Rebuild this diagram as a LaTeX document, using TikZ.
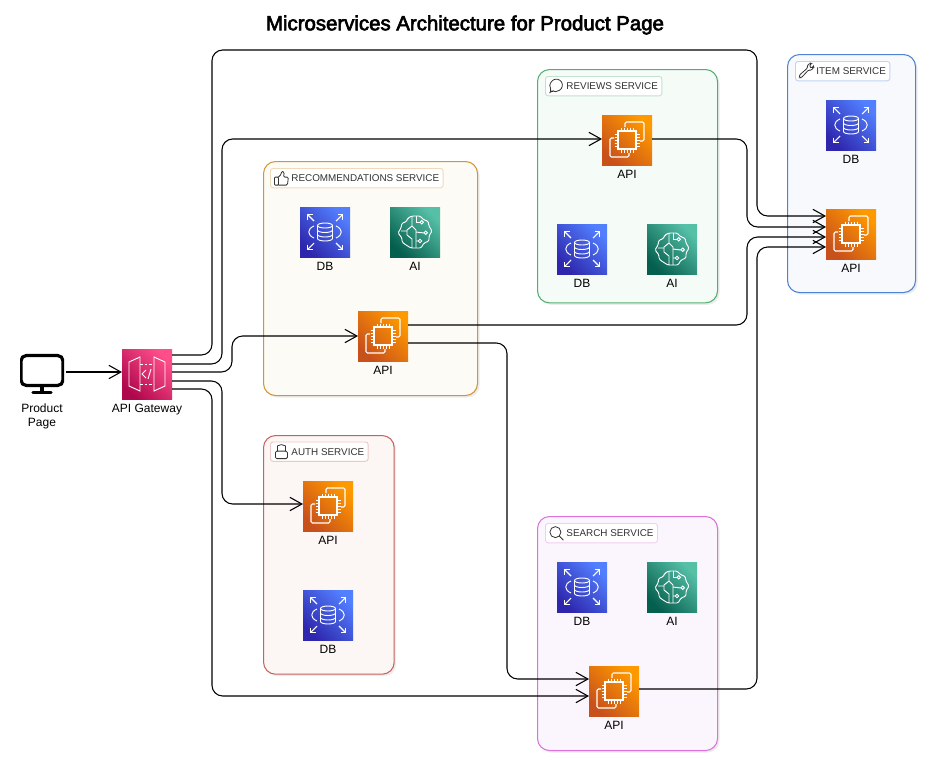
\documentclass[tikz,border=0pt]{standalone}
\usepackage{fontspec}
\setmainfont{Liberation Sans}
\newfontfamily\titlefont[FakeBold=3]{Liberation Sans}
\usetikzlibrary{positioning}
\usetikzlibrary{arrows.meta}
\usetikzlibrary{shadows}
\definecolor{inkgrey}{HTML}{333333}
\definecolor{recline}{HTML}{D0953F}
\definecolor{revline}{HTML}{55AD72}
\definecolor{itemline}{HTML}{4F82D3}
\definecolor{authline}{HTML}{C8625F}
\definecolor{searchline}{HTML}{DA72DA}
\definecolor{recfill}{HTML}{FDFBF5}
\definecolor{revfill}{HTML}{F5FCF8}
\definecolor{itemfill}{HTML}{F7F9FD}
\definecolor{authfill}{HTML}{FCF6F5}
\definecolor{searchfill}{HTML}{FBF6FD}
\tikzset{
	conn/.style={
		draw=black,
		line width=.8pt,
		rounded corners=8pt,
		-{Straight Barb[length=9pt,width=10pt,line width=.8pt]}
	},
	iconbox/.style={
		rectangle,
		inner sep=0pt,
		outer sep=0pt,
		minimum size=37.5pt,
		shade
	},
	apibox/.style={
		iconbox,
		bottom color={rgb,255:red,200;green,81;blue,27},
		top color={rgb,255:red,255;green,153;blue,0},
		shading angle=-45,
		path picture={\pic at (path picture bounding box.center) {chipglyph};}
	},
	dbbox/.style={
		iconbox,
		bottom color={rgb,255:red,46;green,39;blue,173},
		top color={rgb,255:red,82;green,127;blue,255},
		shading angle=-45,
		path picture={\pic at (path picture bounding box.center) {dbglyph};}
	},
	aibox/.style={
		iconbox,
		bottom color={rgb,255:red,5;green,95;blue,78},
		top color={rgb,255:red,86;green,192;blue,167},
		shading angle=-45,
		path picture={\pic at (path picture bounding box.center) {aiglyph};}
	},
	gatewaybox/.style={
		iconbox,
		bottom color={rgb,255:red,176;green,8;blue,77},
		top color={rgb,255:red,255;green,79;blue,139},
		shading angle=-45,
		path picture={\pic at (path picture bounding box.center) {gateglyph};}
	},
	monitorbox/.style={
		rectangle,
		inner sep=0pt,
		minimum width=33pt,
		minimum height=30pt,
		path picture={\pic at (path picture bounding box.center) {monitorglyph};}
	},
	lbl/.style={
		font=\fontsize{9}{10.5}\selectfont,
		text=black,
		align=center,
		inner sep=0pt
	},
	group/.style={
		rectangle,
		rounded corners=9pt,
		line width=.8pt,
		anchor=north west,
		draw=#1line,
		fill=#1fill,
		drop shadow={shadow xshift=1.5pt,shadow yshift=-1.5pt,opacity=.15}
	},
	chip/.style={
		rectangle,
		rounded corners=2pt,
		line width=.7pt,
		fill=white,
		anchor=north west,
		text=inkgrey,
		minimum height=14.5pt,
		inner ysep=0pt,
		inner xsep=3pt,
		font=\fontsize{7.4}{9}\selectfont,
		path picture={\pic at ([xshift=8.2pt]path picture bounding box.west) {#1};}
	},
	chipglyph/.pic={
		\draw[white,line width=.85pt] (-9,-9) rectangle (9,9);
		\foreach \p in {-6,-3,0,3,6} {
			\draw[white,line width=.6pt] (\p,-12.5) -- (\p,-9) (\p,9) -- (\p,12.5);
			\draw[white,line width=.6pt] (-12.5,\p) -- (-9,\p) (9,\p) -- (12.5,\p);
		}
		\draw[white,line width=.85pt,rounded corners=1pt] (-2,-13) -- (-2,-18) -- (17,-18) -- (17,1) -- (13,1);
		\draw[white,line width=.85pt,rounded corners=1pt] (-13,-2) -- (-17,-2) -- (-17,17) -- (2,17) -- (2,13);
	},
	dbglyph/.pic={
		\draw[white,line width=.7pt] (0,-6.5) ellipse (7.5 and 2.5);
		\draw[white,line width=.7pt] (-7.5,-6.5) -- (-7.5,6.5) arc (180:0:7.5 and 2.5) -- (7.5,-6.5);
		\draw[white,line width=.7pt] (-7.5,-2) arc (180:0:7.5 and 2.5);
		\draw[white,line width=.7pt] (-7.5,2.5) arc (180:0:7.5 and 2.5);
		\draw[white,line width=.7pt] (-11,-6) .. controls (-18,-3) and (-18,3) .. (-11,6);
		\draw[white,line width=.7pt] (11,-6) .. controls (18,-3) and (18,3) .. (11,6);
		\foreach \sx/\sy in {1/1,1/-1,-1/1,-1/-1} {
			\draw[white,line width=.8pt] (\sx*11,\sy*11) -- (\sx*17.5,\sy*17.5);
			\draw[white,line width=.8pt] (\sx*17.5,\sy*12.5) -- (\sx*17.5,\sy*17.5) -- (\sx*12.5,\sy*17.5);
		}
	},
	aiglyph/.pic={
		\draw[white,line width=.7pt,rounded corners=1pt] (-3,-16) -- (5,-16) -- (9,-12) -- (13,-11) -- (14,-6) -- (17,-1) -- (14,4) -- (14,9) -- (9,11) -- (6,16) -- (-4,16) -- (-9,13) -- (-13,10) -- (-13,6) -- (-17,1) -- (-14,-4) -- (-13,-9) -- (-9,-10) -- (-7,-14) -- cycle;
		\draw[white,line width=.7pt] (-3,-16) -- (-3,-6) -- (-8,-2) -- (-8,3);
		\draw[white,line width=.7pt] (-14,-1) -- (-8,-1) (-8,3) -- (-3,7) -- (-3,16);
		\draw[white,line width=.7pt] (-3,-6) -- (1,-2) -- (1,16);
		\draw[white,line width=.7pt] (1,-16) -- (1,-10) -- (5,-10);
		\draw[white,line width=.7pt] (1,0) -- (9,1) (1,9) -- (3.5,9);
		\draw[white,line width=.7pt] (6.7,-9.7) circle (1.7) (10.7,.7) circle (1.7) (5,9) circle (1.7);
	},
	gateglyph/.pic={
		\draw[white,line width=.7pt] (-18,-12) -- (-7,-17) -- (-7,17) -- (-18,12) -- cycle;
		\draw[white,line width=.7pt] (18,-12) -- (7,-17) -- (7,17) -- (18,12) -- cycle;
		\draw[white,line width=.7pt,dash pattern=on 2pt off 1.5pt] (-7,-10) -- (7,-10) (-7,10) -- (7,10);
		\draw[white,line width=.7pt] (-1,-4) -- (-5,0) -- (-1,4) (4,-5) -- (1,5);
	},
	monitorglyph/.pic={
		\draw[black,line width=2.4pt,rounded corners=4pt] (-21,-18) rectangle (21,12);
		\draw[black,line width=2.4pt] (0,12) -- (0,19);
		\draw[black,line width=2.4pt,line cap=round] (-9,19) -- (9,19);
	},
	thumbglyph/.pic={
		\draw[inkgrey,line width=.6pt,rounded corners=.6pt] (-7,-1) rectangle (-3,7);
		\draw[inkgrey,line width=.6pt,rounded corners=1pt] (-3,-1) -- (0,-4) -- (0,-7) -- (3,-6) -- (2,-1) -- (7,-1) -- (6,7) -- (-3,7);
	},
	bubbleglyph/.pic={
		\draw[inkgrey,line width=.6pt] (-5.2,2) arc (150:480:6) -- (-6.5,6.5) -- cycle;
	},
	wrenchglyph/.pic={
		\draw[inkgrey,line width=.6pt,rounded corners=.8pt] (-7,4) -- (1,-3) -- (1,-6) -- (4,-8) -- (5,-7.5) -- (3,-5) -- (5,-3) -- (7,-5) -- (7.5,-4) -- (5,-1) -- (2,-1) -- (-5,6.5) -- (-7,6.5) -- cycle;
	},
	lockglyph/.pic={
		\draw[inkgrey,line width=.6pt,rounded corners=1pt] (-6,-.5) rectangle (6,7);
		\draw[inkgrey,line width=.6pt] (-4,-.5) -- (-4,-3) arc (180:360:4) -- (4,-.5);
	},
	lensglyph/.pic={
		\draw[inkgrey,line width=.6pt] (-1,-1) circle (5.5);
		\draw[inkgrey,line width=.6pt] (3,3) -- (7,7);
	}
}

\begin{document}
\begin{tikzpicture}[x=.75pt,y=-.75pt]
	\useasboundingbox (0,0) rectangle (929,764);

	\node[font=\fontsize{15.3}{18}\titlefont] (title) at (465,25) {Microservices Architecture for Product Page};

	% service groups
	\node[group=rec,minimum width=160.5pt,minimum height=175.5pt] (recgroup) at (263,161) {};
	\node[group=rev,minimum width=135pt,minimum height=175pt] (revgroup) at (537,69) {};
	\node[group=item,minimum width=96pt,minimum height=178.5pt] (itemgroup) at (787,54) {};
	\node[group=auth,minimum width=98pt,minimum height=179pt] (authgroup) at (263,435) {};
	\node[group=search,minimum width=135pt,minimum height=175.5pt] (searchgroup) at (537,516) {};

	\node[chip=thumbglyph,draw=recline!35] (recchip) at (270,168) {\hspace*{12.75pt}RECOMMENDATIONS SERVICE};
	\node[chip=bubbleglyph,draw=revline!35] (revchip) at (545,76) {\hspace*{12.75pt}REVIEWS SERVICE};
	\node[chip=wrenchglyph,draw=itemline!35] (itemchip) at (795,61) {\hspace*{12.75pt}ITEM SERVICE};
	\node[chip=lockglyph,draw=authline!35] (authchip) at (270,441.5) {\hspace*{12.75pt}AUTH SERVICE};
	\node[chip=lensglyph,draw=searchline!35] (searchchip) at (545,523) {\hspace*{12.75pt}SEARCH SERVICE};

	% icons
	\node[monitorbox] (page) at (42,373.5) {};
	\node[lbl,below=7pt of page.south] (pagelbl) {Product\\Page};
	\node[gatewaybox] (gateway) at (147,374) {};
	\node[lbl,below=3.5pt of gateway] (gatewaylbl) {API Gateway};

	\node[dbbox] (recdb) at (325,232) {};
	\node[lbl,below=3.5pt of recdb] (recdblbl) {DB};
	\node[aibox] (recai) at (415,232) {};
	\node[lbl,below=3.5pt of recai] (recailbl) {AI};
	\node[apibox] (recapi) at (383,336) {};
	\node[lbl,below=3.5pt of recapi] (recapilbl) {API};

	\node[apibox] (revapi) at (627,140) {};
	\node[lbl,below=3.5pt of revapi] (revapilbl) {API};
	\node[dbbox] (revdb) at (582,249) {};
	\node[lbl,below=3.5pt of revdb] (revdblbl) {DB};
	\node[aibox] (revai) at (672,249) {};
	\node[lbl,below=3.5pt of revai] (revailbl) {AI};

	\node[dbbox] (itemdb) at (851,125) {};
	\node[lbl,below=3.5pt of itemdb] (itemdblbl) {DB};
	\node[apibox] (itemapi) at (851,234) {};
	\node[lbl,below=3.5pt of itemapi] (itemapilbl) {API};

	\node[apibox] (authapi) at (328,506) {};
	\node[lbl,below=3.5pt of authapi] (authapilbl) {API};
	\node[dbbox] (authdb) at (328,615) {};
	\node[lbl,below=3.5pt of authdb] (authdblbl) {DB};

	\node[dbbox] (searchdb) at (582,587) {};
	\node[lbl,below=3.5pt of searchdb] (searchdblbl) {DB};
	\node[aibox] (searchai) at (672,587) {};
	\node[lbl,below=3.5pt of searchai] (searchailbl) {AI};
	\node[apibox] (searchapi) at (614,691) {};
	\node[lbl,below=3.5pt of searchapi] (searchapilbl) {API};

	% connectors
	\draw[conn] ([shift={(2,-1.5)}]page.east) -- ([shift={(0,-2)}]gateway.west);

	\draw[conn] ([shift={(0,-19)}]gateway.east) -- (212,355) -- (212,50) -- (757,50) -- (757,216) -- ([shift={(0,-18)}]itemapi.west);
	\draw[conn] ([shift={(0,-10)}]gateway.east) -- (222,364) -- (222,139) -- ([shift={(0,-1)}]revapi.west);
	\draw[conn] ([shift={(0,-2)}]gateway.east) -- (232,372) -- (232,336) -- (recapi.west);
	\draw[conn] ([shift={(0,7)}]gateway.east) -- (222,381) -- (222,504) -- ([shift={(0,-2)}]authapi.west);
	\draw[conn] ([shift={(0,15)}]gateway.east) -- (212,389) -- (212,696) -- ([shift={(0,5)}]searchapi.west);

	\draw[conn] ([shift={(0,-1)}]revapi.east) -- (747,139) -- (747,227) -- ([shift={(0,-7)}]itemapi.west);
	\draw[conn] ([shift={(0,-11)}]recapi.east) -- (747,325) -- (747,237) -- ([shift={(0,3)}]itemapi.west);
	\draw[conn] ([shift={(0,-2)}]searchapi.east) -- (757,689) -- (757,247) -- ([shift={(0,13)}]itemapi.west);
	\draw[conn] ([shift={(0,7)}]recapi.east) -- (507,343) -- (507,679) -- ([shift={(0,-12)}]searchapi.west);
\end{tikzpicture}
\end{document}
